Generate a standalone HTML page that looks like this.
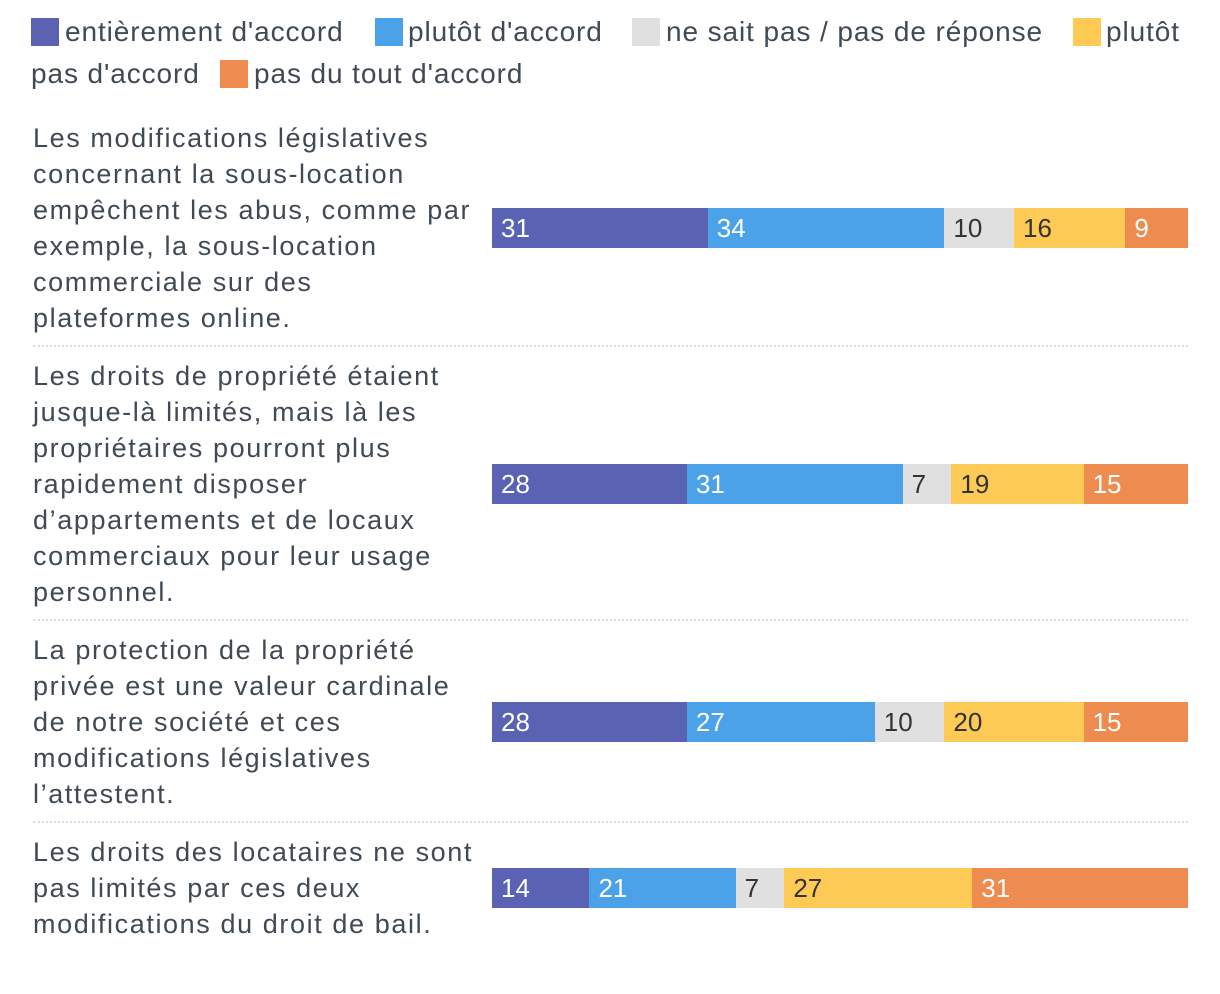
<!DOCTYPE html>
<html><head><meta charset="utf-8">
<style>
body{margin:0;width:1220px;height:994px;background:#fff;font-family:"Liberation Sans",sans-serif;color:#3f4a55;position:relative;overflow:hidden}
.sw{position:absolute;width:28px;height:28px}
.lt{position:absolute;font-size:28px;line-height:28px;white-space:nowrap;letter-spacing:0.9px}
.ln{position:absolute;left:33px;font-size:27px;line-height:36px;white-space:nowrap;letter-spacing:1.6px}
.sep{position:absolute;left:33px;width:1155px;border-top:2px dotted #ddd}
</style></head><body>
<div>
<div class="sw" style="left:31px;top:18px;background:#5a62b3"></div>
<div class="lt" style="left:65px;top:18px">entièrement d'accord</div>
<div class="sw" style="left:375px;top:18px;background:#4ba2e8"></div>
<div class="lt" style="left:408px;top:18px">plutôt d'accord</div>
<div class="sw" style="left:632px;top:18px;background:#e0e0e0"></div>
<div class="lt" style="left:666px;top:18px">ne sait pas / pas de réponse</div>
<div class="sw" style="left:1073px;top:18px;background:#fdca55"></div>
<div class="lt" style="left:1106px;top:18px">plutôt</div>
<div class="lt" style="left:31px;top:60px">pas d'accord</div>
<div class="sw" style="left:220px;top:60px;background:#ee8b4f"></div>
<div class="lt" style="left:254px;top:60px">pas du tout d'accord</div>
</div>
<div id="chart"></div>
<script>
const categories=[
["Les modifications législatives","concernant la sous-location","empêchent les abus, comme par","exemple, la sous-location","commerciale sur des","plateformes online."],
["Les droits de propriété étaient","jusque-là limités, mais là les","propriétaires pourront plus","rapidement disposer","d’appartements et de locaux","commerciaux pour leur usage","personnel."],
["La protection de la propriété","privée est une valeur cardinale","de notre société et ces","modifications législatives","l’attestent."],
["Les droits des locataires ne sont","pas limités par ces deux","modifications du droit de bail."]];
const seriesEntierement=[31,28,28,14];
const seriesPlutotAccord=[34,31,27,21];
const seriesNeSaitPas=[10,7,10,7];
const seriesPlutotPas=[16,19,20,27];
const seriesPasDuTout=[9,15,15,31];
const series=[seriesEntierement,seriesPlutotAccord,seriesNeSaitPas,seriesPlutotPas,seriesPasDuTout];
const colors=["#5a62b3","#4ba2e8","#e0e0e0","#fdca55","#ee8b4f"];
const textColors=["#fff","#fff","#333","#333","#fff"];
const segNames=["entierement","plutot-accord","ne-sait-pas","plutot-pas","pas-du-tout"];
const chart=document.getElementById('chart');
const X0=492,W=696,BH=40,LH=36;
const xScale=v=>v/100*W;
let yPos=120;
categories.forEach((lines,i)=>{
  const h=lines.length*LH;
  lines.forEach((t,j)=>{
    const d=document.createElement('div');d.className='ln';
    
    
    d.style.top=(yPos+j*LH)+'px';d.textContent=t;chart.appendChild(d);
  });
  const cy=yPos+h/2;
  let total=0;series.forEach(s=>total+=s[i]);
  let acc=0;
  series.forEach((s,k)=>{
    const v=s[i];const x=X0+xScale(acc/total*100);const w=xScale(v/total*100);
    const b=document.createElement('div');
    
    
    b.style.cssText=`position:absolute;left:${x}px;top:${cy-BH/2}px;width:${w}px;height:${BH}px;background:${colors[k]};color:${textColors[k]};font-size:26px;line-height:${BH}px;box-sizing:border-box;padding-left:9px;white-space:nowrap;overflow:visible`;
    b.textContent=v;chart.appendChild(b);acc+=v;
  });
  yPos+=h;
  if(i<categories.length-1){
    const s=document.createElement('div');s.className='sep';
    
    
    s.style.top=(yPos+9)+'px';chart.appendChild(s);
    yPos+=22;
  }
});
</script>
</body></html>
